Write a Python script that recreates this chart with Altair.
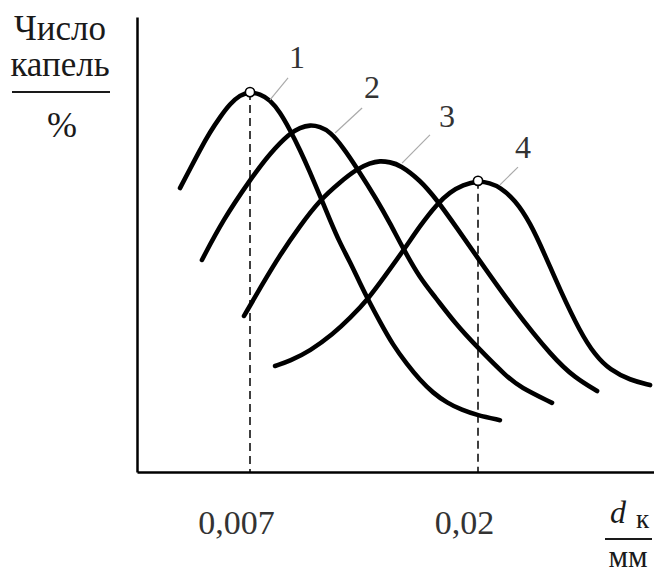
import altair as alt
import pandas as pd

# Curve data: droplet diameter d_k (mm) vs share of droplets (%)
c1_x = [0.00301, 0.00358, 0.00415, 0.00472, 0.00529, 0.00586, 0.00643, 0.00700, 0.00757, 0.00814,
        0.00871, 0.00928, 0.00985, 0.01042, 0.01099, 0.01156, 0.01213, 0.01270, 0.01327, 0.01384,
        0.01441, 0.01515, 0.01595, 0.01669, 0.01743, 0.01823, 0.01909, 0.01994, 0.02125]
c1_y = [62.4, 66.6, 70.8, 74.7, 78.0, 80.9, 82.9, 83.5, 83.1, 81.8,
        79.1, 75.2, 70.8, 65.9, 60.7, 55.4, 50.3, 46.2, 41.5, 37.1,
        33.0, 27.9, 23.7, 20.2, 17.4, 15.2, 13.6, 12.5, 11.4]

c2_x = [0.00426, 0.00546, 0.00700, 0.00814, 0.00928, 0.00985, 0.01042, 0.01099, 0.01156, 0.01230,
        0.01310, 0.01424, 0.01498, 0.01572, 0.01669, 0.01755, 0.01869, 0.01994, 0.02165, 0.02239,
        0.02422]
c2_y = [46.6, 55.4, 64.2, 70.1, 74.5, 75.7, 76.3, 75.9, 74.8, 71.4,
        66.8, 59.8, 54.7, 49.2, 42.6, 38.5, 32.7, 27.5, 20.9, 18.7,
        15.2]

c3_x = [0.00666, 0.00774, 0.00871, 0.00985, 0.01099, 0.01213, 0.01310, 0.01384, 0.01441, 0.01498,
        0.01555, 0.01669, 0.01766, 0.01880, 0.01994, 0.02200, 0.02428, 0.02553, 0.02679]
c3_y = [34.3, 41.5, 47.7, 54.1, 59.8, 63.7, 66.6, 67.9, 68.4, 68.1,
        67.5, 64.2, 59.8, 53.6, 47.3, 36.0, 25.1, 20.7, 17.8]

c4_x = [0.00843, 0.00928, 0.01042, 0.01173, 0.01270, 0.01373, 0.01470, 0.01584, 0.01669, 0.01766,
        0.01840, 0.01914, 0.02000, 0.02068, 0.02125, 0.02211, 0.02296, 0.02382, 0.02468, 0.02582,
        0.02667, 0.02753, 0.02867, 0.02981]
c4_y = [23.3, 24.4, 26.6, 30.3, 33.8, 38.0, 43.1, 49.2, 54.1, 58.9,
        61.5, 63.1, 64.0, 63.5, 62.6, 59.8, 54.9, 47.7, 40.0, 30.8,
        25.7, 22.4, 20.2, 19.1]

# Marked peaks (curves 1 and 4)
peak_x = [0.007, 0.02]
peak_y = [83.5, 64.0]

# Curve number labels and their leader lines
label_text = ["1", "2", "3", "4"]
label_x = [0.00968, 0.01396, 0.01823, 0.02257]
label_y = [88.8, 82.2, 75.8, 69.0]
lead_x1 = [0.00814, 0.01185, 0.01567, 0.02125]
lead_y1 = [81.8, 74.5, 67.9, 63.1]
lead_x2 = [0.00917, 0.01339, 0.01726, 0.02228]
lead_y2 = [86.6, 80.0, 74.1, 67.0]

tick_values = [0.007, 0.02]
tick_labels = ["0,007", "0,02"]

rows = []
for cid, xs, ys in [(1, c1_x, c1_y), (2, c2_x, c2_y), (3, c3_x, c3_y), (4, c4_x, c4_y)]:
    for i, (xv, yv) in enumerate(zip(xs, ys)):
        rows.append({"curve": cid, "i": i, "d": xv, "n": yv})
curves = pd.DataFrame(rows)
peaks = pd.DataFrame({"d": peak_x, "n": peak_y})
labels = pd.DataFrame({"t": label_text, "d": label_x, "n": label_y})
leaders = pd.DataFrame({"x1": lead_x1, "y1": lead_y1, "x2": lead_x2, "y2": lead_y2})

SERIF = "Liberation Serif"
INK = "#1a1a1a"

label_expr = " : ".join(
    [f"datum.value == {v} ? '{t}'" for v, t in zip(tick_values, tick_labels)]
) + " : ''"

xs = alt.Scale(domain=[0.000557, 0.030035], nice=False, zero=False)
ys = alt.Scale(domain=[0, 100], nice=False, zero=True)

x_axis = alt.Axis(values=tick_values, labelExpr=label_expr, title=None, grid=False,
                  ticks=False, tickSize=0, domain=True, domainColor="black", domainWidth=2.5,
                  labelFont=SERIF, labelFontSize=34, labelColor="#333333",
                  labelBaseline="alphabetic", labelPadding=61, labelOffset=-14, labelFlush=False)
y_axis = alt.Axis(title=None, grid=False, ticks=False, labels=False, domain=True,
                  domainColor="black", domainWidth=2.5)

lines = alt.Chart(curves).mark_line(
    color="black", strokeWidth=4.6, strokeCap="round", interpolate="basis"
).encode(
    x=alt.X("d:Q", scale=xs, axis=x_axis),
    y=alt.Y("n:Q", scale=ys, axis=y_axis),
    detail="curve:N",
    order="i:Q",
)

dashes = alt.Chart(peaks).mark_rule(color="black", strokeWidth=1.5, strokeDash=[8, 5]).encode(
    x=alt.X("d:Q", scale=xs), y=alt.Y("n:Q", scale=ys), y2=alt.datum(0)
)

circles = alt.Chart(peaks).mark_point(
    shape="circle", filled=True, fill="white", stroke="black", strokeWidth=1.6, size=85, opacity=1
).encode(x=alt.X("d:Q", scale=xs), y=alt.Y("n:Q", scale=ys))

leader_lines = alt.Chart(leaders).mark_rule(color="#aaaaaa", strokeWidth=1.2).encode(
    x=alt.X("x1:Q", scale=xs), y=alt.Y("y1:Q", scale=ys), x2="x2:Q", y2="y2:Q"
)

numbers = alt.Chart(labels).mark_text(
    font=SERIF, fontSize=32, baseline="alphabetic", align="center", color="#333333"
).encode(x=alt.X("d:Q", scale=xs), y=alt.Y("n:Q", scale=ys), text="t:N")

one = pd.DataFrame({"k": [0]})


def txt(s, x, y, size=35, align="center", style="normal"):
    return alt.Chart(one).mark_text(
        text=s, font=SERIF, fontSize=size, align=align, baseline="alphabetic",
        color=INK, fontStyle=style
    ).encode(x=alt.value(x), y=alt.value(y))


def hline(x1, x2, y):
    return alt.Chart(one).mark_rule(color=INK, strokeWidth=2).encode(
        x=alt.value(x1), x2=alt.value(x2), y=alt.value(y)
    )


annotations = [
    txt("Число", -77, 23),
    txt("капель", -77, 59),
    hline(-125, -27, 75),
    txt("%", -75, 120, size=36),
    txt("d", 473, 506, size=32, align="left", style="italic"),
    txt("к", 499, 511, size=27, align="left"),
    hline(468, 515, 522),
    txt("мм", 491, 550, size=31),
]

chart = alt.layer(lines, dashes, circles, leader_lines, numbers, *annotations).properties(
    width=517, height=455,
    autosize=alt.AutoSizeParams(type="none"),
    padding={"left": 129, "top": 9, "right": 0, "bottom": 106},
    background="white",
).configure_view(stroke=None)

chart.save("out.html", embed_options={"renderer": "svg", "actions": False})
